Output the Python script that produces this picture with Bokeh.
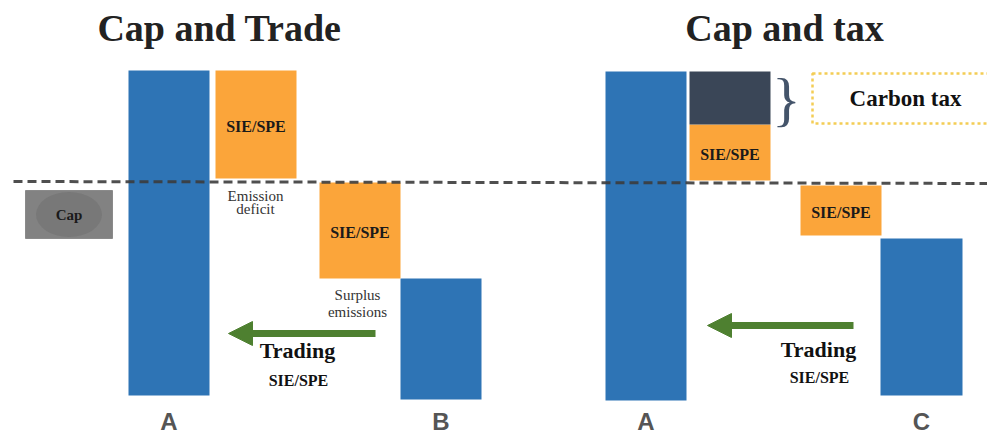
from bokeh.plotting import figure
from bokeh.models import Range1d, ColumnDataSource, Arrow, NormalHead
from bokeh.core.properties import value
from bokeh.embed import file_html
from bokeh.resources import INLINE

# ---------------- data (picture-pixel units, y grows downward) ----------------
titles = ["Cap and Trade", "Cap and tax"]
title_x = [219, 784]

# cap level (dashed line)
cap_line_x = [13, 995]
cap_line_y = [181, 183]

# Cap box
cap_box = dict(left=[25], right=[112], top=[190], bottom=[238])

# Cap and Trade : firm emission bars
ct_firms = ["A", "B"]
ct_left = [128, 400]
ct_right = [209, 481]
ct_top = [70, 278]
ct_bottom = [395, 399]
# SIE/SPE blocks
ct_sie_left = [215, 319]
ct_sie_right = [296, 400]
ct_sie_top = [70, 182]
ct_sie_bottom = [178, 278]

# Cap and tax : firm emission bars
tx_firms = ["A", "C"]
tx_left = [605, 880]
tx_right = [686, 962]
tx_top = [71, 238]
tx_bottom = [400, 395]
tx_sie_left = [689, 800]
tx_sie_right = [770, 881]
tx_sie_top = [124, 185]
tx_sie_bottom = [180, 235]
# carbon tax block
tax_left = [689]
tax_right = [770]
tax_top = [71]
tax_bottom = [124]
tax_box = dict(left=[812], right=[1000], top=[73], bottom=[123])

# trading arrows
trade_from = [375, 853]
trade_to = [228, 707]
trade_y = [333, 325]
trade_label_x = [297, 818]
trade_label_y = [350, 349]
trade_sub_y = [380, 377]

# side notes
note_text = ["Emission", "deficit", "Surplus", "emissions"]
note_x = [255, 255, 357, 357]
note_y = [195, 208, 294, 311]

# ---------------- styles ----------------
BLUE = "#2e74b5"
ORANGE = "#fba53a"
DARK = "#3a4657"
GREEN = "#4e8030"
SERIF = value("Liberation Serif")
SANS = value("Liberation Sans")

W, H = 987, 437
p = figure(width=W, height=H, x_range=Range1d(0, W), y_range=Range1d(H, 0),
           x_axis_type=None, y_axis_type=None, output_backend="svg",
           toolbar_location=None, min_border=0)
p.grid.visible = False
p.outline_line_color = None
p.background_fill_color = "white"

# titles
p.text(x=title_x, y=[27, 27], text=titles, text_font=SERIF, text_font_style="bold",
       text_font_size="38px", text_align="center", text_baseline="middle",
       text_color="#222222")

# cap box
p.quad(**cap_box, fill_color="#828282", line_color="#8a8a8a")
cx = (cap_box["left"][0] + cap_box["right"][0]) / 2
cy = (cap_box["top"][0] + cap_box["bottom"][0]) / 2
p.ellipse(x=[cx], y=[cy], width=[66], height=[45], fill_color="#727272",
          line_color=None, fill_alpha=0.6)
p.text(x=[cx], y=[cy], text=["Cap"], text_font=SERIF, text_font_style="bold",
       text_font_size="15px", text_align="center", text_baseline="middle",
       text_color="#1a1a1a")

# blue bars
p.quad(left=ct_left + tx_left, right=ct_right + tx_right, top=ct_top + tx_top,
       bottom=ct_bottom + tx_bottom, fill_color=BLUE, line_color=None)

# orange SIE/SPE blocks
sl = ct_sie_left + tx_sie_left
sr = ct_sie_right + tx_sie_right
st = ct_sie_top + tx_sie_top
sb = ct_sie_bottom + tx_sie_bottom
p.quad(left=sl, right=sr, top=st, bottom=sb, fill_color=ORANGE, line_color=None)
p.text(x=[(a + b) / 2 for a, b in zip(sl, sr)], y=[(a + b) / 2 + 2 for a, b in zip(st, sb)],
       text=["SIE/SPE"] * 4, text_font=SERIF, text_font_style="bold",
       text_font_size="16px", text_align="center", text_baseline="middle",
       text_color="#1a1a1a")

# carbon tax block
p.quad(left=tax_left, right=tax_right, top=tax_top, bottom=tax_bottom,
       fill_color=DARK, line_color=None)
p.text(x=[786], y=[98], text=["}"], text_font=SERIF, text_font_size="60px",
       text_align="center", text_baseline="middle", text_color="#44546a")
p.quad(**tax_box, fill_color=None, line_color="#f3cd55", line_width=2.5, line_dash="3 3")
p.text(x=[905], y=[98], text=["Carbon tax"], text_font=SERIF, text_font_style="bold",
       text_font_size="23px", text_align="center", text_baseline="middle",
       text_color="#111111")

# dashed cap line
p.line(x=cap_line_x, y=cap_line_y, line_color="#3c3c3c", line_width=3,
       line_dash="9 5", line_alpha=0.9)

# notes
p.text(x=note_x, y=note_y, text=note_text, text_font=SERIF, text_font_size="15px",
       text_align="center", text_baseline="middle", text_color="#333333")

# trading arrows
src = ColumnDataSource(dict(xs=trade_from, xe=trade_to, y=trade_y))
p.add_layout(Arrow(end=NormalHead(size=24, fill_color=GREEN, line_color=GREEN, line_width=1),
                   x_start="xs", y_start="y", x_end="xe", y_end="y", source=src,
                   line_color=GREEN, line_width=7))
p.text(x=trade_label_x, y=trade_label_y, text=["Trading", "Trading"], text_font=SERIF,
       text_font_style="bold", text_font_size="22px", text_align="center",
       text_baseline="middle", text_color="#111111")
p.text(x=[x + 1 for x in trade_label_x], y=trade_sub_y, text=["SIE/SPE", "SIE/SPE"],
       text_font=SERIF, text_font_style="bold", text_font_size="16px",
       text_align="center", text_baseline="middle", text_color="#111111")

# firm letters
p.text(x=[(a + b) / 2 for a, b in zip(ct_left + tx_left, ct_right + tx_right)],
       y=[421] * 4, text=ct_firms + tx_firms, text_font=SANS, text_font_style="bold",
       text_font_size="24px", text_align="center", text_baseline="middle",
       text_color="#555555")

open("out.html", "w").write(file_html(p, INLINE))
